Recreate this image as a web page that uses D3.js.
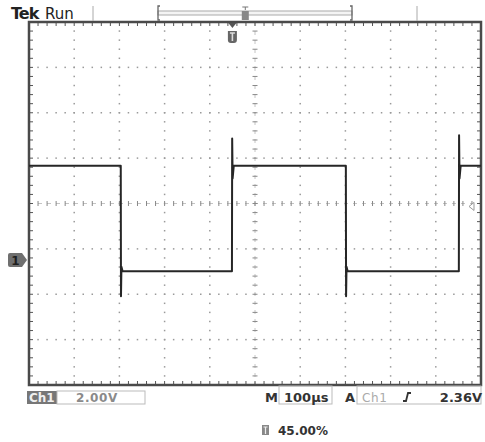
<!DOCTYPE html>
<html>
<head>
<meta charset="utf-8">
<script src="https://cdn.jsdelivr.net/npm/d3@7"></script>
<style>
  html, body { margin: 0; padding: 0; background: #fff; }
  svg { display: block; }
  text { font-family: 'DejaVu Sans', sans-serif; }
</style>
</head>
<body>
<svg id="scope" width="485" height="442"></svg>
<script>
// waveform samples (time in us, level in V)
var timeUs = [0, 203, 203.5, 204.5, 207, 449, 449.5, 450.5, 453, 701, 701.5, 702.5, 705, 951, 951.5, 952.5, 955, 1000];
var volts  = [4.15, 4.15, -1.6, -0.3, -0.5, -0.5, 5.35, 3.6, 4.15, 4.15, -1.6, -0.3, -0.5, -0.5, 5.5, 3.6, 4.15, 4.15];

var voltsPerDiv = 2.00,
    usPerDiv = 100,
    triggerPct = 45.00,
    triggerLevel = 2.36,
    groundDiv = -1.245;   // ch1 ground marker, divisions from centre

var channelLabel = 'Ch1',
    scaleLabel = '2.00V',
    timeLabel = '100\u00b5s',
    levelLabel = '2.36V',
    triggerLabel = '45.00%';

(function(){
    'use strict';

    var svg = d3.select( '#scope' ),
        left = 29, right = 481, top = 22, bottom = 385;

    var gx = d3.scaleLinear().domain( [0, 10] ).range( [left, right] ),
        gy = d3.scaleLinear().domain( [-4, 4] ).range( [bottom, top] ),
        x = d3.scaleLinear().domain( [0, usPerDiv * 10] ).range( [left, right] ),
        y = d3.scaleLinear()
            .domain( [(-4 - groundDiv) * voltsPerDiv, (4 - groundDiv) * voltsPerDiv] )
            .range( [bottom, top] );

    var minor = d3.range( 0, 10.001, 0.2 ),
        minorY = d3.range( -4, 4.001, 0.2 );

    // dotted graticule
    var dots = svg.append( 'g' ).attr( 'fill', '#9a9a9a' );
    [1, 2, 3, 4, 6, 7, 8, 9].forEach(function( c ){
        minorY.forEach(function( r ){
            dots.append( 'rect' ).attr( 'x', gx(c) - 0.75 ).attr( 'y', gy(r) - 0.75 )
                .attr( 'width', 1.5 ).attr( 'height', 1.5 );
        });
    });
    [-3, -2, -1, 1, 2, 3].forEach(function( r ){
        minor.forEach(function( c ){
            dots.append( 'rect' ).attr( 'x', gx(c) - 0.75 ).attr( 'y', gy(r) - 0.75 )
                .attr( 'width', 1.5 ).attr( 'height', 1.5 );
        });
    });

    // centre cross with minor ticks
    var cross = svg.append( 'g' );
    cross.append( 'line' ).attr( 'x1', left ).attr( 'x2', right )
        .attr( 'y1', gy(0) ).attr( 'y2', gy(0) )
        .attr( 'stroke', '#c4c4c4' ).attr( 'stroke-dasharray', '4,5' );
    cross.append( 'line' ).attr( 'y1', top ).attr( 'y2', bottom )
        .attr( 'x1', gx(5) ).attr( 'x2', gx(5) )
        .attr( 'stroke', '#c4c4c4' ).attr( 'stroke-dasharray', '4,5' );
    cross.selectAll( 'line.hx' ).data( minor ).enter().append( 'line' )
        .attr( 'x1', gx ).attr( 'x2', gx )
        .attr( 'y1', gy(0) - 2.5 ).attr( 'y2', gy(0) + 2.5 )
        .attr( 'stroke', '#888' );
    cross.selectAll( 'line.vy' ).data( minorY ).enter().append( 'line' )
        .attr( 'y1', gy ).attr( 'y2', gy )
        .attr( 'x1', gx(5) - 2.5 ).attr( 'x2', gx(5) + 2.5 )
        .attr( 'stroke', '#888' );

    // edge ticks
    var edge = svg.append( 'g' ).attr( 'stroke', '#555' );
    minor.forEach(function( c ){
        edge.append( 'line' ).attr( 'x1', gx(c) ).attr( 'x2', gx(c) ).attr( 'y1', top ).attr( 'y2', top + 4 );
        edge.append( 'line' ).attr( 'x1', gx(c) ).attr( 'x2', gx(c) ).attr( 'y1', bottom ).attr( 'y2', bottom - 4 );
    });
    minorY.forEach(function( r ){
        edge.append( 'line' ).attr( 'y1', gy(r) ).attr( 'y2', gy(r) ).attr( 'x1', left ).attr( 'x2', left + 4 );
        edge.append( 'line' ).attr( 'y1', gy(r) ).attr( 'y2', gy(r) ).attr( 'x1', right ).attr( 'x2', right - 4 );
    });

    svg.append( 'rect' ).attr( 'x', left ).attr( 'y', top )
        .attr( 'width', right - left ).attr( 'height', bottom - top )
        .attr( 'fill', 'none' ).attr( 'stroke', '#4a4a4a' ).attr( 'stroke-width', 2.5 );

    // waveform
    var line = d3.line()
        .x(function( d ){ return x( d[0] ); })
        .y(function( d ){ return y( d[1] ); });

    svg.append( 'path' )
        .datum( d3.zip( timeUs, volts ) )
        .attr( 'd', line )
        .attr( 'fill', 'none' )
        .attr( 'stroke', '#262626' )
        .attr( 'stroke-width', 2 )
        .attr( 'stroke-linejoin', 'round' );

    // ground marker
    var gY = y(0);
    svg.append( 'path' )
        .attr( 'd', 'M10,' + (gY - 7) + 'h12l5,7l-5,7h-12q-2,0 -2,-2v-10q0,-2 2,-2z' )
        .attr( 'fill', '#6f6f6f' );
    svg.append( 'text' ).attr( 'x', 15.5 ).attr( 'y', gY + 5 )
        .attr( 'text-anchor', 'middle' ).attr( 'font-size', 12 ).attr( 'font-weight', 'bold' )
        .attr( 'fill', '#1e1e1e' ).text( '1' );

    // trigger position marker
    var tX = x( usPerDiv * 10 * triggerPct / 100 );
    svg.append( 'path' ).attr( 'd', 'M' + (tX - 4) + ',' + (top + 1) + 'h8l-4,5z' ).attr( 'fill', '#555' );
    svg.append( 'path' )
        .attr( 'd', 'M' + (tX - 4.5) + ',31h9v9q0,3 -3,3h-3q-3,0 -3,-3z' )
        .attr( 'fill', '#666' );
    svg.append( 'path' )
        .attr( 'd', 'M' + (tX - 2.5) + ',33h5M' + tX + ',33v8' )
        .attr( 'stroke', '#ddd' ).attr( 'stroke-width', 1.6 );

    // trigger level marker
    var lY = y( triggerLevel );
    svg.append( 'path' )
        .attr( 'd', 'M' + (right - 12) + ',' + lY + 'l5,-4v8z' )
        .attr( 'fill', '#fff' ).attr( 'stroke', '#999' );

    // top status bar
    svg.append( 'text' ).attr( 'x', 11 ).attr( 'y', 19 ).attr( 'font-size', 16 )
        .attr( 'font-family', '"Liberation Sans", Arial, sans-serif' )
        .attr( 'font-weight', 'bold' ).attr( 'letter-spacing', -1 ).attr( 'fill', '#222' ).text( 'Tek' );
    svg.append( 'text' ).attr( 'x', 45 ).attr( 'y', 19 ).attr( 'font-size', 15 )
        .attr( 'font-family', '"Liberation Sans", Arial, sans-serif' )
        .attr( 'fill', '#222' ).text( 'Run' );
    [93, 417].forEach(function( px ){
        svg.append( 'line' ).attr( 'x1', px ).attr( 'x2', px ).attr( 'y1', 6 ).attr( 'y2', 21 )
            .attr( 'stroke', '#aaa' );
    });
    svg.append( 'rect' ).attr( 'x', 158 ).attr( 'y', 11 ).attr( 'width', 194 ).attr( 'height', 4 )
        .attr( 'fill', '#f4f4f4' ).attr( 'stroke', '#aaa' ).attr( 'stroke-width', 1 );
    svg.append( 'path' ).attr( 'd', 'M160,6h-2v14h2M350,6h2v14h-2' )
        .attr( 'fill', 'none' ).attr( 'stroke', '#666' ).attr( 'stroke-width', 1.3 );
    var rX = 158 + 194 * triggerPct / 100;
    svg.append( 'path' ).attr( 'd', 'M' + (rX - 3) + ',7h6M' + rX + ',7v3' ).attr( 'stroke', '#777' );
    svg.append( 'rect' ).attr( 'x', rX - 3.5 ).attr( 'y', 11 ).attr( 'width', 7 ).attr( 'height', 9 )
        .attr( 'fill', '#888' );

    // bottom status
    var sy = 391, sh = 13, base = 402;
    svg.append( 'rect' ).attr( 'x', 27 ).attr( 'y', sy ).attr( 'width', 30 ).attr( 'height', sh ).attr( 'fill', '#777' );
    svg.append( 'text' ).attr( 'x', 29 ).attr( 'y', base ).attr( 'font-size', 12 ).attr( 'font-weight', 'bold' )
        .attr( 'fill', '#f0f0f0' ).text( channelLabel );
    svg.append( 'rect' ).attr( 'x', 57 ).attr( 'y', sy ).attr( 'width', 88 ).attr( 'height', sh )
        .attr( 'fill', 'none' ).attr( 'stroke', '#bbb' );
    svg.append( 'text' ).attr( 'x', 76 ).attr( 'y', base ).attr( 'font-size', 12 ).attr( 'font-weight', 'bold' )
        .attr( 'letter-spacing', 0.6 ).attr( 'fill', '#8a8a8a' ).text( scaleLabel );

    svg.append( 'text' ).attr( 'x', 265 ).attr( 'y', base ).attr( 'font-size', 13 ).attr( 'font-weight', 'bold' )
        .attr( 'fill', '#333' ).text( 'M' );
    svg.append( 'rect' ).attr( 'x', 279 ).attr( 'y', sy - 5 ).attr( 'width', 53 ).attr( 'height', sh + 5 )
        .attr( 'fill', 'none' ).attr( 'stroke', '#bbb' );
    svg.append( 'text' ).attr( 'x', 284 ).attr( 'y', base ).attr( 'font-size', 13 ).attr( 'font-weight', 'bold' )
        .attr( 'fill', '#333' ).text( timeLabel );

    svg.append( 'text' ).attr( 'x', 345 ).attr( 'y', base ).attr( 'font-size', 13 ).attr( 'font-weight', 'bold' )
        .attr( 'fill', '#333' ).text( 'A' );
    svg.append( 'rect' ).attr( 'x', 357 ).attr( 'y', sy - 5 ).attr( 'width', right - 357 ).attr( 'height', sh + 5 )
        .attr( 'fill', 'none' ).attr( 'stroke', '#bbb' );
    svg.append( 'text' ).attr( 'x', 362 ).attr( 'y', base ).attr( 'font-size', 12 )
        .attr( 'letter-spacing', 0.6 ).attr( 'fill', '#aaa' ).text( channelLabel );
    svg.append( 'path' ).attr( 'd', 'M403,' + (base - 1) + 'h3l2,-8h3' )
        .attr( 'fill', 'none' ).attr( 'stroke', '#333' ).attr( 'stroke-width', 1.8 );
    svg.append( 'text' ).attr( 'x', right + 1 ).attr( 'y', base ).attr( 'text-anchor', 'end' )
        .attr( 'font-size', 13 ).attr( 'font-weight', 'bold' ).attr( 'fill', '#333' ).text( levelLabel );

    // trigger position readout
    svg.append( 'rect' ).attr( 'x', 262 ).attr( 'y', 425 ).attr( 'width', 7 ).attr( 'height', 10 ).attr( 'fill', '#888' );
    svg.append( 'path' ).attr( 'd', 'M263.5,427h4M265.5,427v7' ).attr( 'stroke', '#eee' ).attr( 'stroke-width', 1.2 );
    svg.append( 'text' ).attr( 'x', 278 ).attr( 'y', 435 ).attr( 'font-size', 12 ).attr( 'font-weight', 'bold' )
        .attr( 'fill', '#333' ).text( triggerLabel );
})();
</script>
</body>
</html>
